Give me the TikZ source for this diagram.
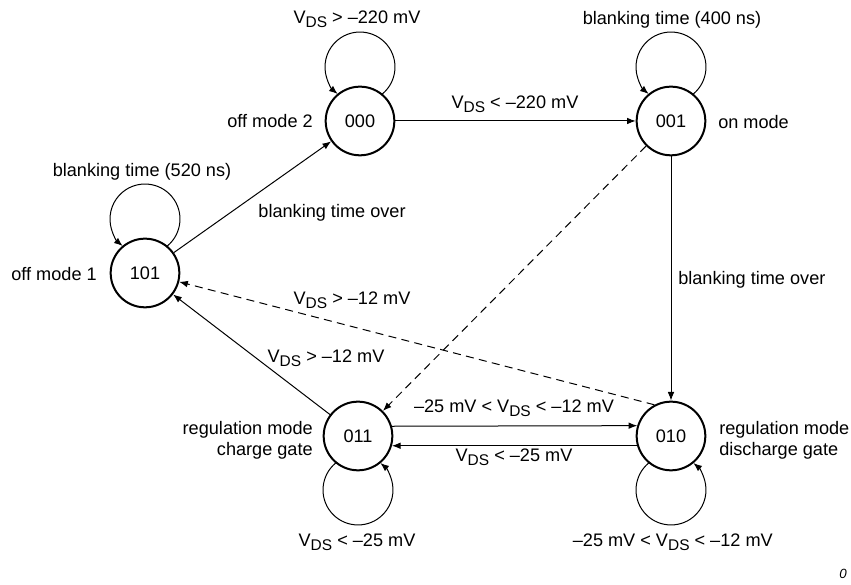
\documentclass[tikz,border=0pt]{standalone}
\usepackage{fontspec}
\setmainfont{Liberation Sans}
\usetikzlibrary{arrows.meta}
\newcommand{\Vds}{V\raisebox{-0.22em}{\fontsize{11.6}{12}\selectfont DS}}
\begin{document}
\begin{tikzpicture}[x=0.75pt,y=0.75pt,
  every node/.style={font=\fontsize{13.6}{15.8}\selectfont},
  state/.style={circle,draw,line width=1.5pt,minimum size=51.5pt,inner sep=0pt},
  edge/.style={line width=0.75pt,-{Latex[length=6.5pt,width=5pt]}},
  dashededge/.style={edge,dash pattern=on 6pt off 4pt},
  lbl/.style={inner sep=0pt,anchor=base}]
\useasboundingbox (0,0) rectangle (851,585);
% states
\node[state] (n101) at (145,312) {101};
\node[state] (n000) at (360,464) {000};
\node[state] (n001) at (671,464) {001};
\node[state] (n011) at (358,149) {011};
\node[state] (n010) at (671,149) {010};
% state names
\node[lbl,anchor=base east] (t101) at (97,304.5) {off mode 1};
\node[lbl,anchor=base east] (t000) at (313,457.5) {off mode 2};
\node[lbl,anchor=base west] (t001) at (718,456.5) {on mode};
\node[inner sep=0pt,anchor=east,align=right] (t011) at (313,145) {regulation mode\\charge gate};
\node[inner sep=0pt,anchor=west,align=left] (t010) at (719,145) {regulation mode\\discharge gate};
% self loops
\draw[edge] ([shift={(22.3,27)}]n101.center) arc[start angle=-50.4,end angle=230.4,radius=35];
\draw[edge] ([shift={(22.3,27)}]n000.center) arc[start angle=-50.4,end angle=230.4,radius=35];
\draw[edge] ([shift={(22.3,27)}]n001.center) arc[start angle=-50.4,end angle=230.4,radius=35];
\draw[edge] ([shift={(-22.3,-27)}]n011.center) arc[start angle=129.6,end angle=410.4,radius=35];
\draw[edge] ([shift={(-22.3,-27)}]n010.center) arc[start angle=129.6,end angle=410.4,radius=35];
% loop labels
\node[lbl] (l101) at (142,408) {blanking time (520 ns)};
\node[lbl] (l000) at (357,561) {\Vds{} > –220 mV};
\node[lbl] (l001) at (672,560) {blanking time (400 ns)};
\node[lbl] (l011) at (357,38) {\Vds{} < –25 mV};
\node[lbl,anchor=base east] (l010) at (773,38) {–25 mV < \Vds{} < –12 mV};
% transitions
\draw[edge] (n101) -- (n000);
\draw[edge] (n000) -- (n001);
\draw[edge] (n001) -- (n010);
\draw[dashededge] (n001) -- (n011);
\draw[dashededge] (n010.118) -- (n101);
\draw[edge] (n011) -- (n101);
\draw[edge] (n011.16.6) -- (n010.163.4);
\draw[edge] (n010.196.6) -- (n011.-16.6);
% transition labels
\node[lbl] (e1) at (332,367) {blanking time over};
\node[lbl] (e2) at (515,476) {\Vds{} < –220 mV};
\node[lbl,anchor=base west] (e3) at (678,300) {blanking time over};
\node[lbl] (e4) at (352,280) {\Vds{} > –12 mV};
\node[lbl] (e5) at (326,222) {\Vds{} > –12 mV};
\node[lbl] (e6) at (514,172) {–25 mV < \Vds{} < –12 mV};
\node[lbl] (e7) at (514,123) {\Vds{} < –25 mV};
% figure id
\node[lbl,font=\fontsize{10}{12}\selectfont\itshape] (fid) at (843,6) {0};
\end{tikzpicture}
\end{document}
